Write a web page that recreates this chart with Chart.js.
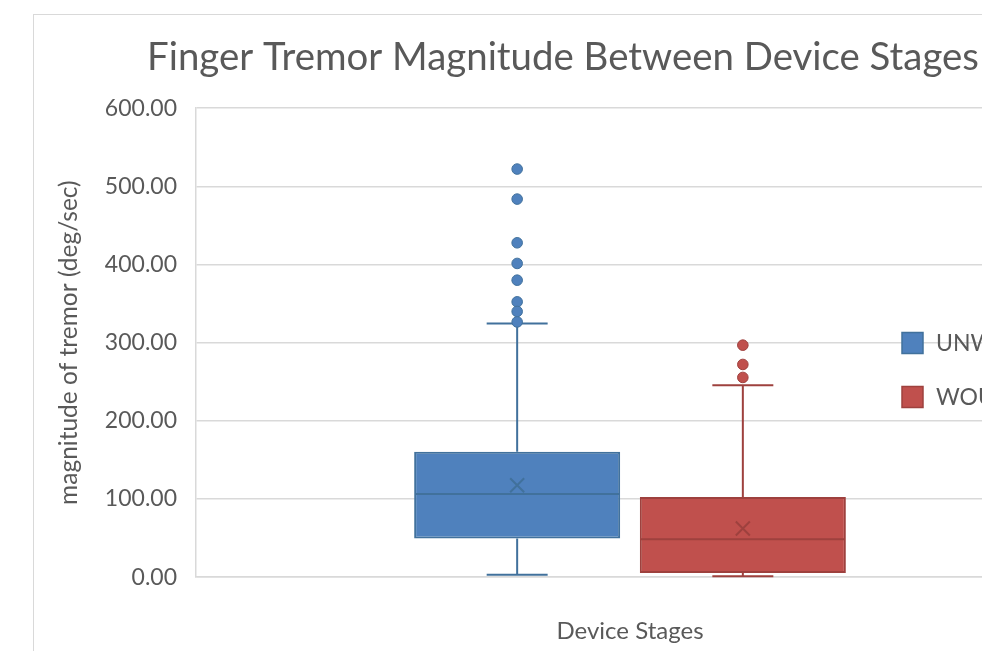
<!DOCTYPE html>
<html>
<head>
<meta charset="utf-8">
<script src="https://cdn.jsdelivr.net/npm/chart.js@4/dist/chart.umd.min.js"></script>
<style>
  html, body { margin:0; padding:0; background:#fff; overflow:hidden; width:982px; height:651px; }
  #frame { position:absolute; left:33px; top:14px; width:1060px; height:660px; border-left:1px solid #d9d9d9; border-top:1px solid #d9d9d9; }
  #wrap { position:absolute; left:0; top:0; width:1060px; height:636px; }
</style>
</head>
<body>
<div id="frame"><div id="wrap"><canvas id="c"></canvas></div></div>
<script>
// ---- data ----
const categories = [''];
const seriesNames = ['UNWORN', 'WOUND'];
const q1Values = [49.5, 5.5];
const medianValues = [106.5, 48.5];
const q3Values = [160.3, 102.7];
const whiskerLow = [3.0, 1.3];
const whiskerHigh = [324.6, 245.6];
const meanValues = [117.7, 62.3];
const outliersUnworn = [522.0, 483.6, 427.7, 401.3, 379.9, 352.2, 339.9, 326.5];
const outliersWound = [296.8, 272.1, 255.5];
const outliers = [outliersUnworn, outliersWound];

const fillColors = ['#4f81bd', '#c0504d'];
const edgeColors = ['#41719c', '#9e413e'];
const textColor = '#595959';
const gridColor = '#d9d9d9';
const FONT = 'Lato, "Open Sans", sans-serif';

const boxExtras = {
  id: 'boxExtras',
  afterDatasetsDraw(chart) {
    const ctx = chart.ctx;
    const ys = chart.scales.y;
    chart.data.datasets.forEach((ds, i) => {
      const bar = chart.getDatasetMeta(i).data[0];
      if (!bar) return;
      const cx = bar.x, w = bar.width;
      const left = cx - w / 2 + 1, right = cx + w / 2 - 1;
      const capHalf = w * 0.148;
      ctx.save();
      ctx.strokeStyle = edgeColors[i];
      ctx.lineWidth = 2;
      // whiskers
      ctx.beginPath();
      ctx.moveTo(cx, ys.getPixelForValue(q3Values[i]));
      ctx.lineTo(cx, ys.getPixelForValue(whiskerHigh[i]));
      ctx.moveTo(cx - capHalf, ys.getPixelForValue(whiskerHigh[i]));
      ctx.lineTo(cx + capHalf, ys.getPixelForValue(whiskerHigh[i]));
      ctx.moveTo(cx, ys.getPixelForValue(q1Values[i]));
      ctx.lineTo(cx, ys.getPixelForValue(whiskerLow[i]));
      ctx.moveTo(cx - capHalf, ys.getPixelForValue(whiskerLow[i]));
      ctx.lineTo(cx + capHalf, ys.getPixelForValue(whiskerLow[i]));
      ctx.stroke();
      // median
      ctx.beginPath();
      const my = ys.getPixelForValue(medianValues[i]);
      ctx.moveTo(left, my); ctx.lineTo(right, my);
      ctx.stroke();
      // mean X
      const mny = ys.getPixelForValue(meanValues[i]);
      const s = 7;
      ctx.beginPath();
      ctx.moveTo(cx - s, mny - s); ctx.lineTo(cx + s, mny + s);
      ctx.moveTo(cx - s, mny + s); ctx.lineTo(cx + s, mny - s);
      ctx.stroke();
      // outliers
      ctx.lineWidth = 1;
      ctx.fillStyle = fillColors[i];
      outliers[i].forEach(v => {
        ctx.beginPath();
        ctx.arc(cx, ys.getPixelForValue(v), 5.3, 0, Math.PI * 2);
        ctx.fill(); ctx.stroke();
      });
      ctx.restore();
    });
    // legend (overlaid on the plot, right side)
    ctx.save();
    ctx.font = '23px ' + FONT;
    ctx.textBaseline = 'middle';
    const lx = 868, ly0 = 328, gap = 54;
    seriesNames.forEach((n, i) => {
      const y = ly0 + i * gap;
      ctx.fillStyle = fillColors[i];
      ctx.strokeStyle = edgeColors[i];
      ctx.lineWidth = 1.5;
      ctx.fillRect(lx, y - 10.5, 21, 21);
      ctx.strokeRect(lx, y - 10.5, 21, 21);
      ctx.fillStyle = textColor;
      ctx.fillText(n, lx + 34, y + 1);
    });
    ctx.restore();
  }
};

new Chart(document.getElementById('c'), {
  type: 'bar',
  data: {
    labels: categories,
    datasets: seriesNames.map((n, i) => ({
      label: n,
      data: [[q1Values[i], q3Values[i]]],
      backgroundColor: fillColors[i],
      borderColor: edgeColors[i],
      borderWidth: 2,
      borderSkipped: false,
      categoryPercentage: 0.52,
      barPercentage: 0.913
    }))
  },
  options: {
    responsive: true,
    maintainAspectRatio: false,
    animation: false,
    layout: { padding: { left: 28, right: 30, top: 0, bottom: 0 } },
    plugins: {
      legend: { display: false },
      tooltip: { enabled: false },
      title: {
        display: true,
        text: 'Finger Tremor Magnitude Between Device Stages',
        color: textColor,
        font: { family: FONT, size: 38.4, weight: 'normal' },
        padding: { top: 20, bottom: 27 }
      }
    },
    scales: {
      x: {
        grid: { display: false, drawTicks: false },
        border: { display: true, color: gridColor, width: 1.5 },
        ticks: { display: false },
        title: {
          display: true, text: 'Device Stages', color: textColor,
          font: { family: FONT, size: 24 }, padding: { top: 40, bottom: 5 }
        }
      },
      y: {
        min: 0, max: 600,
        ticks: {
          stepSize: 100, color: textColor, padding: 19,
          font: { family: FONT, size: 23 },
          callback: v => Number(v).toFixed(2)
        },
        grid: { color: gridColor, lineWidth: 1.5, drawTicks: false },
        border: { display: true, color: gridColor, width: 1.5 },
        title: {
          display: true, text: 'magnitude of tremor (deg/sec)', color: textColor,
          font: { family: FONT, size: 24.5, lineHeight: 0.6 }, padding: { top: 0, bottom: 0 }
        },
        afterFit(scale) { scale.width = 134; }
      }
    }
  },
  plugins: [boxExtras]
});
</script>
</body>
</html>
